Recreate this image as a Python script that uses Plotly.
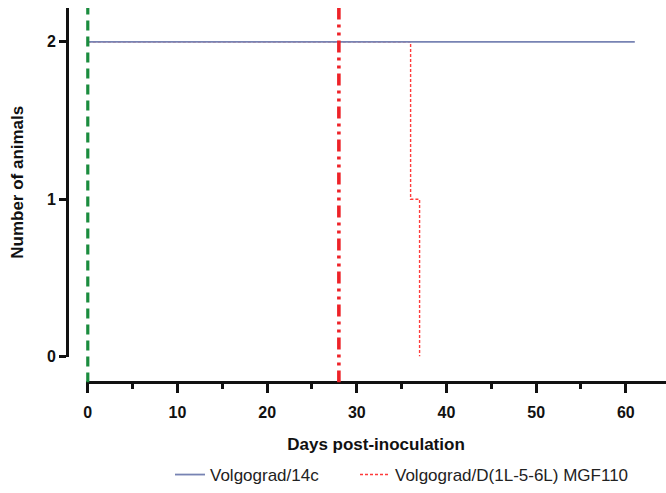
import plotly.graph_objects as go

W, H = 666, 493

# --- data ---
days_14c = [0, 61]
animals_14c = [2, 2]
days_mgf = [0, 36, 37]
animals_mgf = [2, 1, 0]
inoculation_day = 0
challenge_day = 28
x_ticks = [0, 10, 20, 30, 40, 50, 60]
y_ticks = [0, 1, 2]

def py(p):
    return 1 - p / H

def px(p):
    return p / W

fig = go.Figure()

fig.add_trace(go.Scatter(
    x=days_mgf, y=animals_mgf, mode="lines", name="Volgograd/D(1L-5-6L) MGF110",
    line=dict(color="#ff3b3b", width=1.4, dash="3px,2px", shape="hv"),
    xaxis="x", yaxis="y", legend="legend2"))
fig.add_trace(go.Scatter(
    x=days_14c, y=animals_14c, mode="lines", name="Volgograd/14c",
    line=dict(color="#7783b3", width=1.8), xaxis="x", yaxis="y", legend="legend"))

# vertical reference lines (inoculation and challenge), on a hidden full-height axis
fig.add_trace(go.Scatter(
    x=[inoculation_day, inoculation_day], y=[0, 1], mode="lines", showlegend=False,
    line=dict(color="#1a8c3e", width=3.2, dash="10px,6px"), xaxis="x", yaxis="y2",
    hoverinfo="skip"))
fig.add_trace(go.Scatter(
    x=[challenge_day, challenge_day], y=[0, 1], mode="lines", showlegend=False,
    line=dict(color="#ee2228", width=3.6, dash="12px,5px,3px,5px,3px,5px"),
    xaxis="x", yaxis="y2", hoverinfo="skip"))

tick_font = dict(family="Liberation Sans", size=16, color="#111111", weight="bold")
title_font = dict(family="Liberation Sans", size=17, color="#111111", weight="bold")
legend_font = dict(family="Liberation Sans", size=17, color="#222222")

fig.update_layout(
    width=W, height=H,
    margin=dict(l=0, r=0, t=0, b=0),
    paper_bgcolor="white", plot_bgcolor="rgba(0,0,0,0)",
    xaxis=dict(
        domain=[px(86), 1], range=[-0.2, 64.48], anchor="free", position=py(384),
        showgrid=False, zeroline=False, showline=True, linecolor="#111111", linewidth=3,
        ticks="outside", ticklen=9, tickwidth=3, tickcolor="#111111",
        tickvals=x_ticks, tickfont=tick_font, ticklabelstandoff=5,
        minor=dict(dtick=5, tick0=0, ticks="outside", ticklen=5, tickwidth=2.5,
                   tickcolor="#111111", showgrid=False),
        title=dict(text="Days post-inoculation", font=title_font, standoff=18),
        automargin=False,
    ),
    yaxis=dict(
        domain=[py(358), py(8)], range=[0, 2.215], anchor="free", position=px(67),
        showgrid=False, zeroline=False, showline=True, linecolor="#111111", linewidth=3,
        ticks="outside", ticklen=7, tickwidth=3, tickcolor="#111111",
        tickvals=y_ticks, tickfont=tick_font,
        title=dict(text="Number of animals", font=title_font, standoff=17),
        automargin=False,
    ),
    yaxis2=dict(
        domain=[py(384), py(8)], range=[0, 1], anchor="x", visible=False,
        showgrid=False, zeroline=False, fixedrange=True,
    ),
    showlegend=True,
    legend=dict(
        orientation="h", x=px(170), xanchor="left", y=py(477), yanchor="middle",
        font=legend_font, bgcolor="rgba(0,0,0,0)",
    ),
    legend2=dict(
        orientation="h", x=px(355), xanchor="left", y=py(477), yanchor="middle",
        font=legend_font, bgcolor="rgba(0,0,0,0)",
    ),
)

fig.write_html("out.html", config={"displayModeBar": False},
               post_script="document.body.style.margin='0px';")
